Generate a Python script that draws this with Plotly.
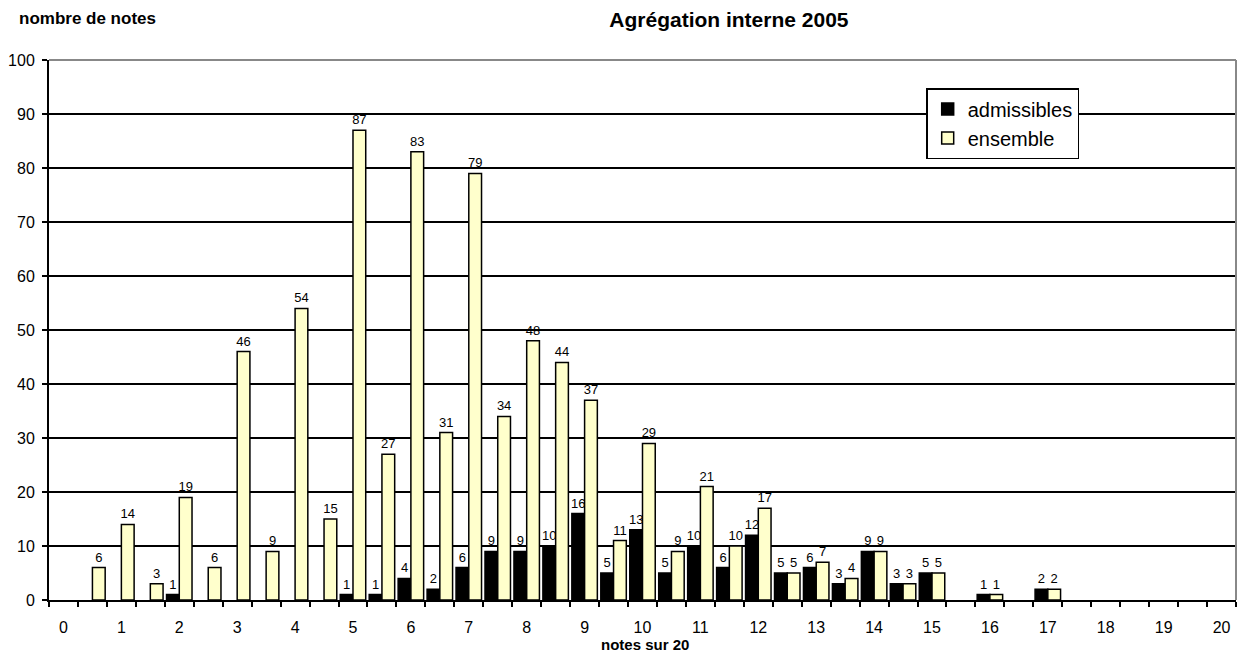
import plotly.graph_objects as go

notes = [0, 0.5, 1, 1.5, 2, 2.5, 3, 3.5, 4, 4.5, 5, 5.5, 6, 6.5, 7, 7.5, 8, 8.5, 9, 9.5,
         10, 10.5, 11, 11.5, 12, 12.5, 13, 13.5, 14, 14.5, 15, 15.5, 16, 16.5, 17, 17.5,
         18, 18.5, 19, 19.5, 20]

admissibles = [None, None, None, None, 1, None, None, None, None, None, 1, 1, 4, 2, 6, 9,
               9, 10, 16, 5, 13, 5, 10, 6, 12, 5, 6, 3, 9, 3, 5, None, 1, None, 2, None,
               None, None, None, None, None]

ensemble = [None, 6, 14, 3, 19, 6, 46, 9, 54, 15, 87, 27, 83, 31, 79, 34, 48, 44, 37, 11,
            29, 9, 21, 10, 17, 5, 7, 4, 9, 3, 5, None, 1, None, 2, None,
            None, None, None, None, None]

tick_vals = [0, 1, 2, 3, 4, 5, 6, 7, 8, 9, 10, 11, 12, 13, 14, 15, 16, 17, 18, 19, 20]
tick_text = ["0", "1", "2", "3", "4", "5", "6", "7", "8", "9", "10", "11", "12", "13",
             "14", "15", "16", "17", "18", "19", "20"]

FONT = "Liberation Sans, Arial, sans-serif"
LBL = dict(family=FONT, size=13, color="#000000")

fig = go.Figure()
fig.add_trace(go.Bar(
    x=notes, y=admissibles, name="admissibles",
    marker=dict(color="black", line=dict(color="black", width=1.5)),
    texttemplate="%{y}", textposition="outside", constraintext="none",
    textfont=LBL, outsidetextfont=LBL, cliponaxis=False,
))
fig.add_trace(go.Bar(
    x=notes, y=ensemble, name="ensemble",
    marker=dict(color="#FFFFCC", line=dict(color="black", width=1.5)),
    texttemplate="%{y}", textposition="outside", constraintext="none",
    textfont=LBL, outsidetextfont=LBL, cliponaxis=False,
))

fig.update_layout(
    width=1246, height=668,
    margin=dict(l=49, r=10, t=60, b=68, autoexpand=False),
    paper_bgcolor="white", plot_bgcolor="white",
    barmode="group", bargap=0.12, bargroupgap=0,
    font=dict(family=FONT, color="black"),
    title=dict(text="<b>Agrégation interne 2005</b>", xref="container", yref="container",
               x=0.585, y=0.97, xanchor="center", yanchor="middle",
               font=dict(family=FONT, size=21, color="black")),
    legend=dict(x=0.739, y=0.948, xanchor="left", yanchor="top",
                bgcolor="white", bordercolor="black", borderwidth=1.5,
                font=dict(family=FONT, size=20, color="black"),
                itemwidth=30, tracegroupgap=0),
    showlegend=True,
)

fig.update_xaxes(
    range=[-0.25, 20.25], tickmode="array", tickvals=tick_vals, ticktext=tick_text,
    ticks="", showgrid=False, zeroline=False, automargin=False,
    showline=True, linecolor="black", linewidth=2,
    tickfont=dict(family=FONT, size=16, color="black"), ticklabelstandoff=12,
    minor=dict(tick0=0.25, dtick=0.5, ticks="outside", ticklen=5,
               tickcolor="black", tickwidth=1.5, showgrid=False),
)
fig.update_yaxes(
    range=[0, 100], dtick=10, tick0=0, automargin=False,
    showgrid=True, gridcolor="black", gridwidth=1.5, zeroline=False,
    showline=True, linecolor="black", linewidth=2,
    ticks="outside", ticklen=5, tickcolor="black", tickwidth=1.5,
    tickfont=dict(family=FONT, size=16, color="black"), ticklabelstandoff=4,
)

# gray plot-area border on top and right
fig.add_shape(type="line", xref="paper", yref="paper", x0=0, x1=1, y0=1, y1=1,
              line=dict(color="#888888", width=2), layer="above")
fig.add_shape(type="line", xref="paper", yref="paper", x0=1, x1=1, y0=0, y1=1,
              line=dict(color="#888888", width=2), layer="above")

fig.add_annotation(text="<b>nombre de notes</b>", xref="paper", yref="paper",
                   x=-0.027, y=1.076, xanchor="left", yanchor="middle", showarrow=False,
                   font=dict(family=FONT, size=17, color="black"))
fig.add_annotation(text="<b>notes sur 20</b>", xref="paper", yref="paper",
                   x=0.502, y=-0.083, xanchor="center", yanchor="middle", showarrow=False,
                   font=dict(family=FONT, size=15, color="black"))

fig.write_html("out.html", config={"displayModeBar": False},
               post_script="document.body.style.margin='0';document.body.style.overflow='hidden';")
